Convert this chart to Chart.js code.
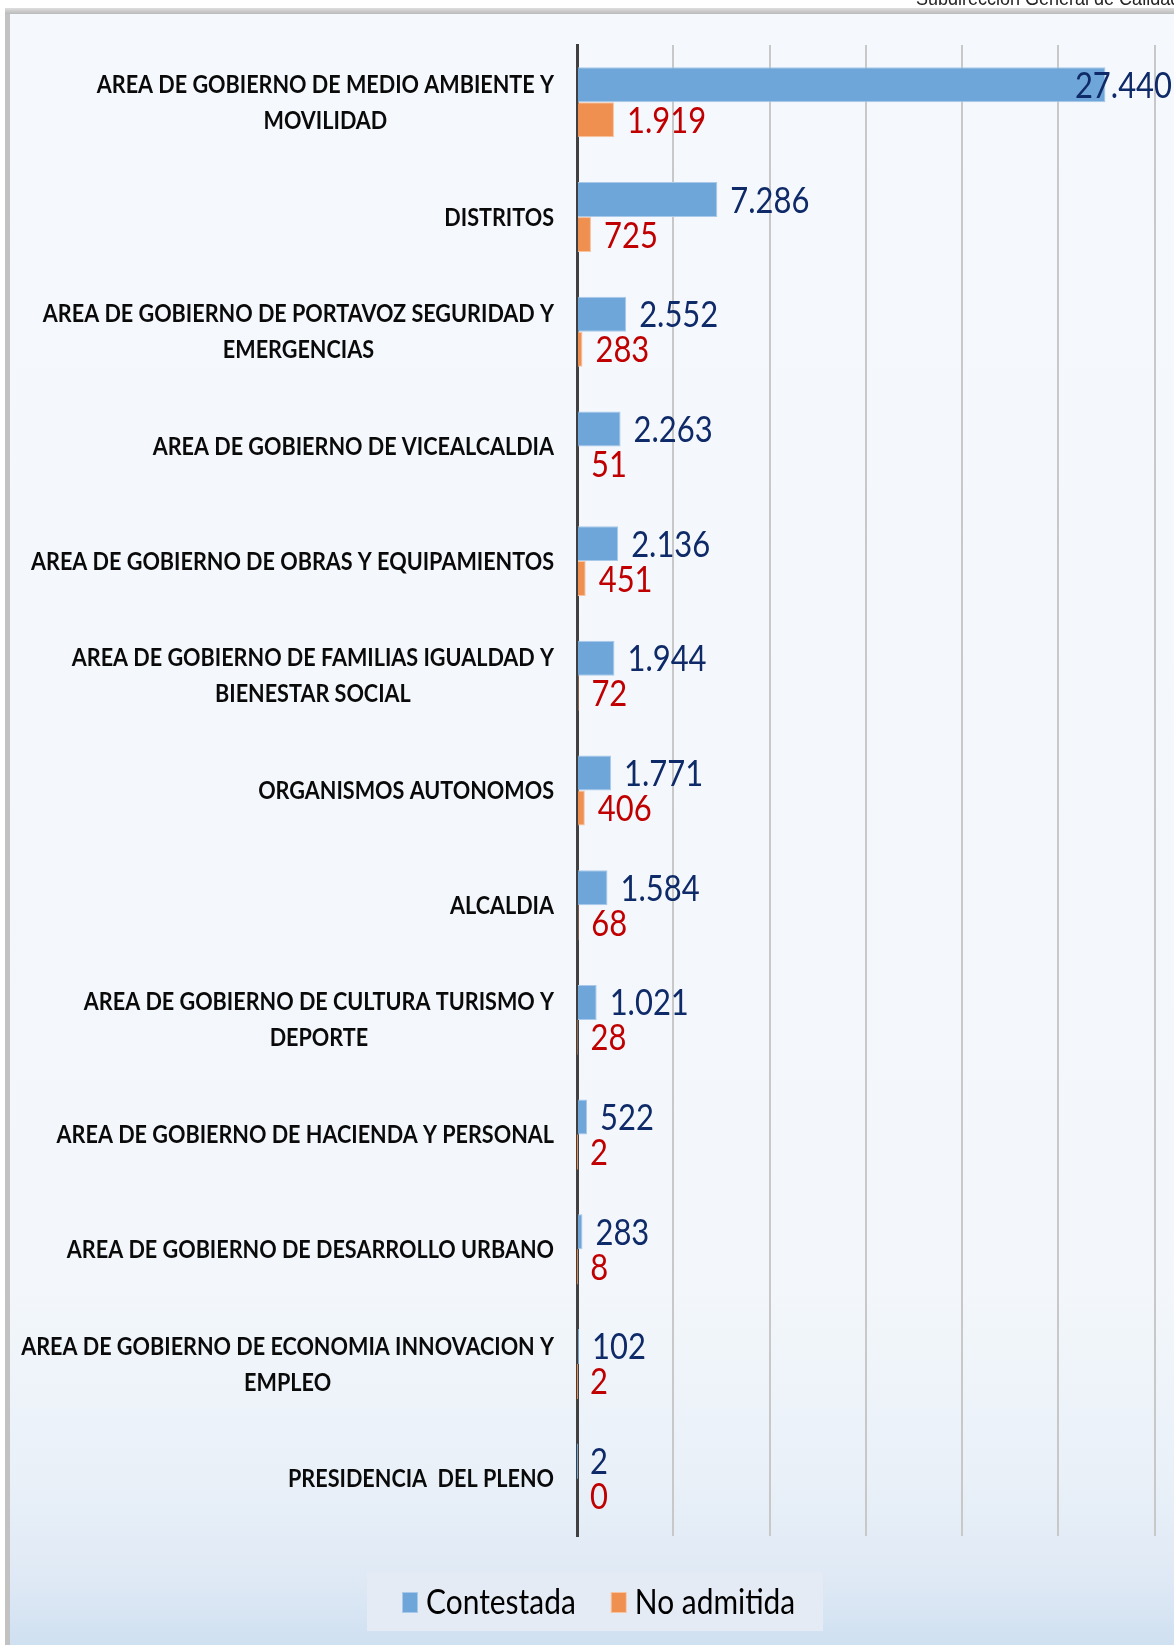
<!DOCTYPE html>
<html><head><meta charset="utf-8">
<script src="https://cdn.jsdelivr.net/npm/chart.js@4.4.1/dist/chart.umd.min.js"></script>
<style>html,body{margin:0;padding:0;background:#fff;overflow:hidden}
#wrap{position:relative;width:1174px;height:1645px}</style>
</head><body><div id="wrap"><canvas id="c" width="1174" height="1645"></canvas></div>
<script>
const categories = [
  ['AREA DE GOBIERNO DE MEDIO AMBIENTE Y','MOVILIDAD'],
  ['DISTRITOS'],
  ['AREA DE GOBIERNO DE PORTAVOZ SEGURIDAD Y','EMERGENCIAS'],
  ['AREA DE GOBIERNO DE VICEALCALDIA'],
  ['AREA DE GOBIERNO DE OBRAS Y EQUIPAMIENTOS'],
  ['AREA DE GOBIERNO DE FAMILIAS IGUALDAD Y','BIENESTAR SOCIAL'],
  ['ORGANISMOS AUTONOMOS'],
  ['ALCALDIA'],
  ['AREA DE GOBIERNO DE CULTURA TURISMO Y','DEPORTE'],
  ['AREA DE GOBIERNO DE HACIENDA Y PERSONAL'],
  ['AREA DE GOBIERNO DE DESARROLLO URBANO'],
  ['AREA DE GOBIERNO DE ECONOMIA INNOVACION Y','EMPLEO'],
  ['PRESIDENCIA  DEL PLENO']
];
const contestada = [27440, 7286, 2552, 2263, 2136, 1944, 1771, 1584, 1021, 522, 283, 102, 2];
const noAdmitida = [1919, 725, 283, 51, 451, 72, 406, 68, 28, 2, 8, 2, 0];
const seriesNames = ['Contestada', 'No admitida'];
const xTicks = [0, 5000, 10000, 15000, 20000, 25000, 30000];
const xMax = 31000;
const headerText = 'Subdirección General de Calidad y Evaluación';

const COLORS = {
  blue: '#6fa6d9', blueEdge: '#a8c9ea', orange: '#ef8f50', orangeEdge: '#f7c3a0',
  blueText: '#0f2a68', redText: '#c00000'
};

function fmt(v){ return String(v).replace(/\B(?=(\d{3})+(?!\d))/g, '.'); }

function squishText(ctx, text, x, y, sx, align){
  const w = ctx.measureText(text).width * sx;
  const left = align === 'right' ? x - w : align === 'center' ? x - w / 2 : x;
  ctx.save(); ctx.translate(left, y); ctx.scale(sx, 1);
  ctx.textAlign = 'left'; ctx.fillText(text, 0, 0); ctx.restore();
  return w;
}

const backgroundPlugin = {
  id: 'bg',
  beforeDraw(chart){
    const ctx = chart.ctx, W = chart.width, H = chart.height;
    ctx.save();
    ctx.fillStyle = '#ffffff'; ctx.fillRect(0, 0, W, H);
    ctx.fillStyle = '#262626'; ctx.font = '20px "Liberation Sans"'; ctx.textBaseline = 'alphabetic';
    squishText(ctx, headerText, 916, 5, 0.9, 'left');
    const fg = ctx.createLinearGradient(0, 8, 0, 15);
    fg.addColorStop(0, '#dedede'); fg.addColorStop(1, '#b4b4b4');
    ctx.fillStyle = fg; ctx.fillRect(5, 8, W, H);
    ctx.fillStyle = '#c2c2c2'; ctx.fillRect(5, 14, 5, H);
    const g = ctx.createLinearGradient(0, 14, 0, H);
    g.addColorStop(0, '#f5f8fc');
    g.addColorStop(0.78, '#f3f7fb');
    g.addColorStop(0.9, '#e9f0f8');
    g.addColorStop(0.96, '#dfe9f5');
    g.addColorStop(1, '#cfe0f1');
    ctx.fillStyle = g; ctx.fillRect(10, 14, W, H);
    ctx.restore();
  }
};

const labelPlugin = {
  id: 'labels',
  afterDatasetsDraw(chart){
    const ctx = chart.ctx, ys = chart.scales.y;
    ctx.save();
    ctx.textBaseline = 'alphabetic';
    // category labels
    ctx.font = 'bold 24px Lato'; ctx.fillStyle = '#0a0a0a';
    const sxCat = 0.9, right = 554, lineH = 36, capHalf = 8.6;
    categories.forEach((lines, i) => {
      const yc = ys.getPixelForValue(i);
      const maxW = Math.max(...lines.map(l => ctx.measureText(l).width * sxCat));
      const cx = right - maxW / 2;
      lines.forEach((l, k) => {
        const y = yc + (k - (lines.length - 1) / 2) * lineH + capHalf;
        squishText(ctx, l, cx, y, sxCat, 'center');
      });
    });
    // data labels
    ctx.font = '36px Lato';
    const sxVal = 0.86;
    const textColors = [COLORS.blueText, COLORS.redText];
    chart.data.datasets.forEach((ds, d) => {
      const meta = chart.getDatasetMeta(d);
      ctx.fillStyle = textColors[d];
      meta.data.forEach((bar, i) => {
        const txt = fmt(ds.data[i]);
        const w = ctx.measureText(txt).width * sxVal;
        let x = bar.x + 13;
        if (x + w > chart.width - 2) x = chart.width - 2 - w;
        squishText(ctx, txt, x, bar.y + 13, sxVal, 'left');
      });
    });
    // legend
    ctx.fillStyle = '#e4ebf4';
    ctx.fillRect(367, 1572, 456, 59);
    ctx.font = '34px Lato';
    const sxLeg = 0.88;
    let x = 402;
    chart.data.datasets.forEach((ds, d) => {
      ctx.fillStyle = ds.borderColor; ctx.fillRect(x, 1592, 16, 21);
      ctx.fillStyle = ds.backgroundColor; ctx.fillRect(x + 1, 1593, 14, 19);
      x += 24;
      ctx.fillStyle = '#000';
      const w = squishText(ctx, ds.label, x, 1614, sxLeg, 'left');
      x += w + 35;
    });
    ctx.restore();
  }
};

const edgeWidth = (c) => {
  const xs = c.chart.scales.x;
  if (!xs) return 0;
  return Math.abs(xs.getPixelForValue(c.raw) - xs.getPixelForValue(0)) > 4 ? 1 : 0;
};

new Chart(document.getElementById('c'), {
  type: 'bar',
  data: {
    labels: categories,
    datasets: [
      { label: seriesNames[0], data: contestada, backgroundColor: COLORS.blue, borderColor: COLORS.blueEdge, borderWidth: edgeWidth },
      { label: seriesNames[1], data: noAdmitida, backgroundColor: COLORS.orange, borderColor: COLORS.orangeEdge, borderWidth: edgeWidth }
    ]
  },
  options: {
    indexAxis: 'y',
    responsive: false,
    animation: false,
    datasets: { bar: { categoryPercentage: 0.61, barPercentage: 1 } },
    layout: { padding: { left: 577, top: 45, right: 0, bottom: 109 } },
    plugins: { legend: { display: false }, tooltip: { enabled: false } },
    scales: {
      x: {
        min: 0, max: xMax,
        afterBuildTicks(s){ s.ticks = xTicks.map(v => ({ value: v })); },
        ticks: { display: false },
        grid: { color: '#c8c8c8', lineWidth: 2, drawTicks: false },
        border: { display: false },
        afterFit(s){ s.height = 0; }
      },
      y: {
        ticks: { display: false },
        grid: { display: false, drawTicks: false },
        border: { display: true, color: '#404040', width: 3 },
        afterFit(s){ s.width = 0; }
      }
    }
  },
  plugins: [backgroundPlugin, labelPlugin]
});
</script>
</body></html>
